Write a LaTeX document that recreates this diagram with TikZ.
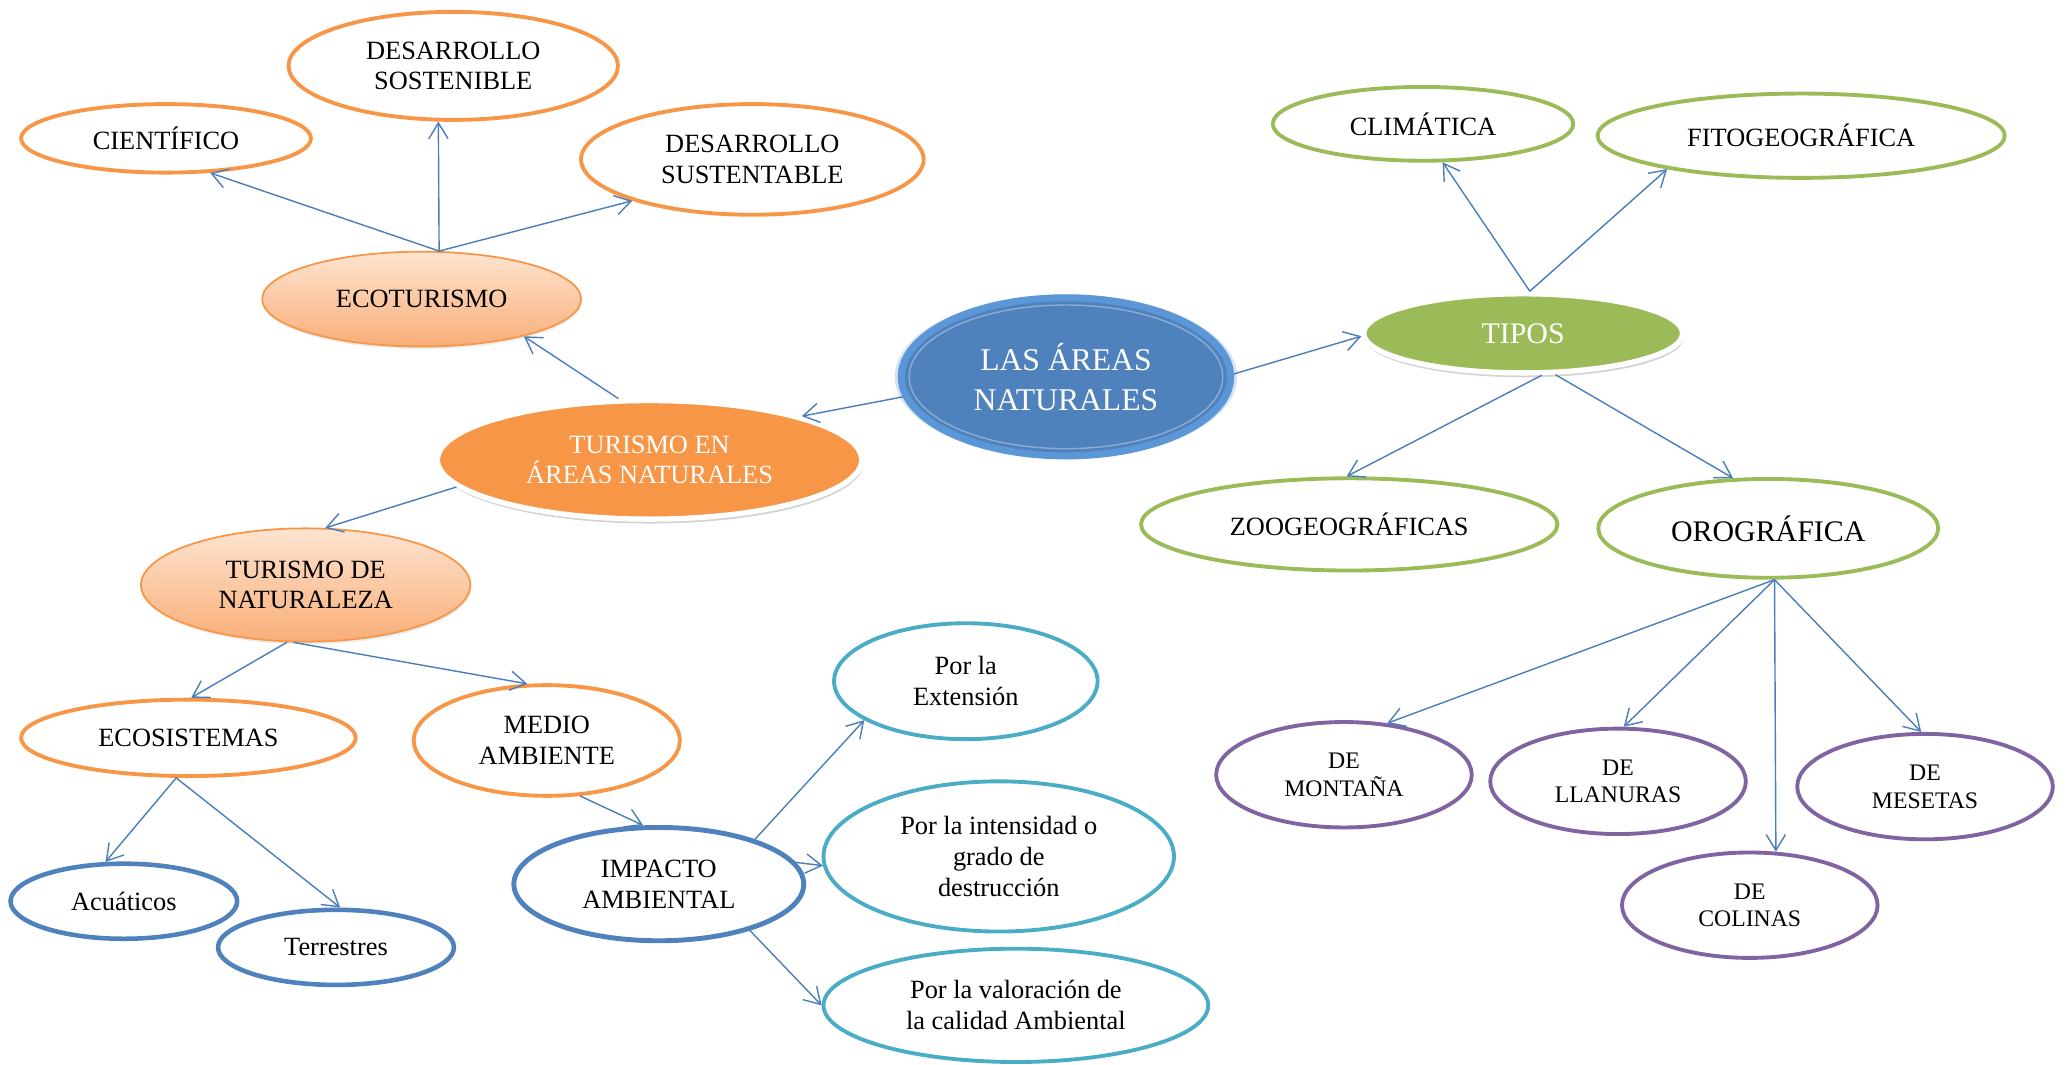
\documentclass[tikz,border=0pt]{standalone}
\usepackage{fontspec}
\setmainfont{Liberation Serif}
\usetikzlibrary{shapes.geometric,arrows.meta,shadows}
\definecolor{areablue}{HTML}{4F81BD}
\definecolor{areabluerim}{HTML}{5B96D6}
\definecolor{linkblue}{HTML}{4A7EBB}
\definecolor{naranja}{HTML}{F79646}
\definecolor{verde}{HTML}{9BBB59}
\definecolor{morado}{HTML}{8064A2}
\definecolor{turquesa}{HTML}{4BACC6}
\definecolor{melocoton}{HTML}{FDE4D0}
\definecolor{melocotonosc}{HTML}{F9AE78}

\tikzset{
  oval/.style 2 args={ellipse, inner sep=0pt, align=center,
    minimum width=#1*0.02635cm, minimum height=#2*0.02635cm},
  txt/.style={font=\fontsize{15}{17.5}\selectfont},
  ring/.style={draw=#1, line width=2.2pt, txt},
  degrad/.style={draw=naranja, line width=1pt, top color=melocoton,
    bottom color=melocotonosc, txt,
    drop shadow={shadow xshift=0.4pt, shadow yshift=-1.5pt, opacity=.15}},
  hub/.style={fill=#1, draw=white, line width=3pt, text=white, txt,
    drop shadow={shadow xshift=0.6pt, shadow yshift=-2.5pt, opacity=.35}},
  conector/.style={draw=linkblue, line width=0.8pt,
    -{Straight Barb[length=9pt,width=11pt]}}
}

\begin{document}
\begin{tikzpicture}[x=0.02635cm, y=-0.02635cm]
  \useasboundingbox (0,0) rectangle (1568,808);

  % centro
  \node[oval={250}{120}, fill=areablue, draw=areabluerim, line width=4pt,
    text=white, font=\fontsize{18}{22.5}\selectfont,
    general shadow={fill=areabluerim!60!white, shadow scale=1.04, opacity=.45}]
    (areas) at (809,286) {LAS ÁREAS\\NATURALES};
  \draw[white, opacity=.35, line width=0.8pt] (809,286) ellipse [x radius=119, y radius=54.5];

  % turismo
  \node[oval={322}{90}, hub=naranja] (tan) at (493,349) {TURISMO EN\\ÁREAS NATURALES};
  \node[oval={242}{72}, degrad] (eco) at (320,227) {ECOTURISMO};
  \node[oval={220}{52}, ring=naranja] (cien) at (126,105) {CIENTÍFICO};
  \node[oval={250}{82}, ring=naranja] (desos) at (344,50) {DESARROLLO\\SOSTENIBLE};
  \node[oval={260}{84}, ring=naranja] (desus) at (571,121) {DESARROLLO\\SUSTENTABLE};
  \node[oval={250}{86}, degrad] (tdn) at (232,444) {TURISMO DE\\NATURALEZA};
  \node[oval={254}{58}, ring=naranja] (ecos) at (143,560) {ECOSISTEMAS};
  \node[oval={202}{84}, ring=naranja] (med) at (415,562) {MEDIO\\AMBIENTE};
  \node[oval={172}{57}, ring=areablue, line width=2.6pt] (acu) at (94,684) {Acuáticos};
  \node[oval={179}{57}, ring=areablue, line width=2.6pt] (terr) at (255,719) {Terrestres};
  \node[oval={220}{86}, ring=areablue, line width=2.8pt] (imp) at (500,671) {IMPACTO\\AMBIENTAL};
  \node[oval={200}{88}, ring=turquesa] (ext) at (733,517) {Por la\\Extensión};
  \node[oval={266}{114}, ring=turquesa] (int) at (758,650) {Por la intensidad o\\grado de\\destrucción};
  \node[oval={292}{86}, ring=turquesa] (val) at (771,763) {Por la valoración de\\la calidad Ambiental};

  % tipos
  \node[oval={242}{60}, hub=verde, font=\fontsize{17}{20}\selectfont] (tipos) at (1156,253) {TIPOS};
  \node[oval={228}{56}, ring=verde] (clim) at (1080,94) {CLIMÁTICA};
  \node[oval={309}{64}, ring=verde] (fito) at (1367,103) {FITOGEOGRÁFICA};
  \node[oval={316}{70}, ring=verde] (zoo) at (1024,398) {ZOOGEOGRÁFICAS};
  \node[oval={258}{75}, ring=verde, font=\fontsize{17}{20}\selectfont] (oro) at (1342,401) {OROGRÁFICA};
  \node[oval={194}{80}, ring=morado, font=\fontsize{13.5}{15.7}\selectfont] (mont) at (1020,588) {DE\\MONTAÑA};
  \node[oval={194}{80}, ring=morado, font=\fontsize{13.5}{15.7}\selectfont] (llan) at (1228,593) {DE\\LLANURAS};
  \node[oval={194}{80}, ring=morado, font=\fontsize{13.5}{15.7}\selectfont] (mes) at (1461,597) {DE\\MESETAS};
  \node[oval={194}{80}, ring=morado, font=\fontsize{13.5}{15.7}\selectfont] (col) at (1328,687) {DE\\COLINAS};

  % conectores
  \draw[conector] (areas.187) -- (tan.16);
  \draw[conector] (areas.1) -- (tipos.181);
  \draw[conector] (tan.117) -- (eco.340);
  \draw[conector] (eco.70) -- (cien.322);
  \draw[conector] (eco.70) -- (desos.255);
  \draw[conector] (eco.70) -- (desus.199);
  \draw[conector] (tan.188) -- (tdn.71);
  \draw[conector] (tdn.252) -- (ecos.86);
  \draw[conector] (tdn.258) -- (med.109);
  \draw[conector] (ecos.253) -- (acu.115);
  \draw[conector] (ecos.253) -- (terr.84);
  \draw[conector] (med.301) -- (imp.105);
  \draw[conector] (imp.25) -- (ext.201);
  \draw[conector] (imp.9) -- (int.183);
  \draw[conector] (imp.333) -- (val.180);
  \draw[conector] (tipos.81) -- (clim.297);
  \draw[conector] (tipos.81) -- (fito.194);
  \draw[conector] (tipos.294) -- (zoo.93);
  \draw[conector] (tipos.308) -- (oro.125);
  \draw[conector] (oro.277) -- (mont.50);
  \draw[conector] (oro.277) -- (llan.84);
  \draw[conector] (oro.277) -- (col.64);
  \draw[conector] (oro.277) -- (mes.94);
\end{tikzpicture}
\end{document}
